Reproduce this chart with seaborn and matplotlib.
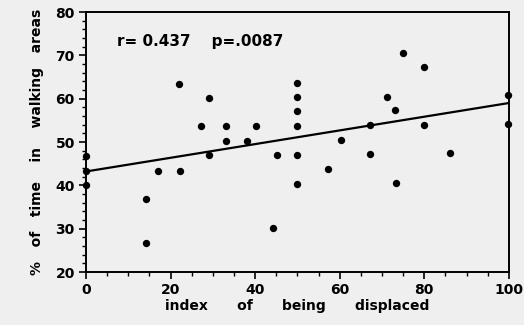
import numpy as np
import pandas as pd
import matplotlib
matplotlib.use("Agg")
import matplotlib.pyplot as plt
from matplotlib.ticker import MultipleLocator
import seaborn as sns

# values
displaced = [0, 0, 0, 14.3, 14.3, 17.1, 22.1, 22.2, 27.2, 29.1, 29.1,
             33.1, 33.1, 38.2, 40.2, 44.3, 45.1, 50, 50, 50, 50, 50, 50,
             57.3, 60.2, 67.2, 67.2, 71.1, 73.1, 73.3, 75.0, 79.9, 79.9,
             86.0, 99.8, 99.8]
walking = [46.8, 43.4, 40.1, 36.8, 26.6, 43.4, 63.5, 43.4, 53.6, 60.2, 46.9,
           53.6, 50.2, 50.2, 53.6, 30.2, 47.1, 63.7, 60.3, 57.1, 53.7, 47.1, 40.3,
           43.8, 50.5, 53.9, 47.2, 60.5, 57.3, 40.6, 70.6, 67.3, 54.0,
           47.5, 60.8, 54.2]
fit_x = [0, 100]
fit_y = [43.2, 59.0]
stat_text = "r= 0.437    p=.0087"

df = pd.DataFrame({"displaced": displaced, "walking": walking})
fit = pd.DataFrame({"x": fit_x, "y": fit_y})

sns.set_style("ticks")
plt.rcParams["font.family"] = ["DejaVu Sans"]
plt.rcParams["text.color"] = "black"
plt.rcParams["axes.labelcolor"] = "black"
plt.rcParams["xtick.color"] = "black"
plt.rcParams["ytick.color"] = "black"
bg = "#efefef"

fig = plt.figure(figsize=(5.24, 3.25), dpi=100, facecolor=bg)
ax = fig.add_axes([0.164, 0.163, 0.807, 0.800], facecolor=bg)

sns.lineplot(data=fit, x="x", y="y", color="black", linewidth=1.6, ax=ax)
sns.scatterplot(data=df, x="displaced", y="walking", color="black", s=28,
                edgecolor="black", linewidth=0, ax=ax, zorder=3, clip_on=False)

ax.set_xlim(0, 100)
ax.set_ylim(20, 80)
ax.xaxis.set_major_locator(MultipleLocator(20))
ax.xaxis.set_minor_locator(MultipleLocator(5))
ax.yaxis.set_major_locator(MultipleLocator(10))
ax.yaxis.set_minor_locator(MultipleLocator(2))
ax.tick_params(which="major", direction="out", length=5, width=1.2,
               labelsize=10, pad=3)
ax.tick_params(which="minor", direction="out", length=3, width=1.0)
for lab in ax.get_xticklabels() + ax.get_yticklabels():
    lab.set_fontweight("bold")
for s in ax.spines.values():
    s.set_visible(True)
    s.set_color("black")
    s.set_linewidth(1.4)

ax.set_xlabel("index      of      being      displaced", fontsize=10,
              fontweight="bold", labelpad=1)
ax.set_ylabel("%   of   time    in    walking   areas", fontsize=10,
              fontweight="bold", labelpad=8)

ax.text(7.3, 73.2, stat_text, fontsize=11, fontweight="bold", va="center",
        ha="left")

fig.savefig("out.png", dpi=100, facecolor=bg)
